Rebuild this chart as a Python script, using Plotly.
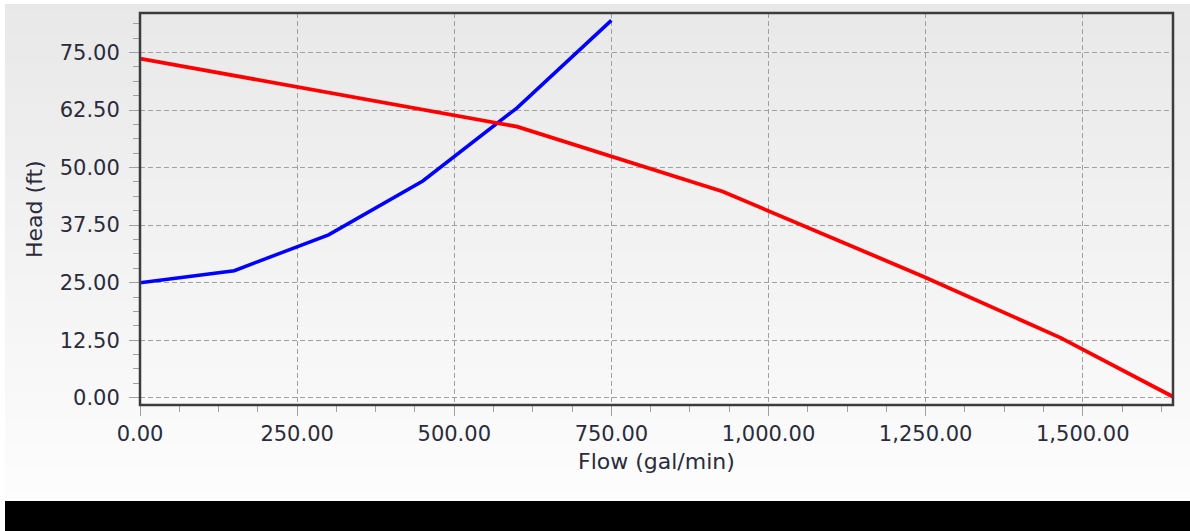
import plotly.graph_objects as go

# ---- data ----
system_flow = [0, 150, 300, 450, 600, 750]
system_head = [25.0, 27.6, 35.4, 47.1, 63.0, 82.0]

pump_flow = [0, 600, 927, 1247, 1465, 1643.6]
pump_head = [73.7, 58.9, 44.8, 26.3, 13.0, 0.2]

x_range = [0, 1643.6]
y_range = [-1.59, 83.6]

W, H = 1190, 531
L, R, T, B = 140, 17, 13, 126
pw, ph = W - L - R, H - T - B

def px2paper_x(px):
    return (px - L) / pw

def px2paper_y(py):
    return (H - B - py) / ph

fig = go.Figure()
fig.add_trace(go.Scatter(x=system_flow, y=system_head, mode="lines",
                         line=dict(color="#0000ff", width=3.5), showlegend=False,
                         cliponaxis=False))
fig.add_trace(go.Scatter(x=pump_flow, y=pump_head, mode="lines",
                         line=dict(color="#ff0000", width=3.8), showlegend=False,
                         cliponaxis=False))

shapes = []
# background gradient
top_px, bot_px = 4, 501
n = 60
c0, c1 = 0xE8, 0xFD
for i in range(n):
    y0 = top_px + (bot_px - top_px) * i / n
    y1 = top_px + (bot_px - top_px) * (i + 1) / n
    c = int(round(c0 + (c1 - c0) * (i + 0.5) / n))
    col = f"rgb({c},{c},{c})"
    shapes.append(dict(type="rect", xref="paper", yref="paper",
                       x0=px2paper_x(5), x1=px2paper_x(1190),
                       y0=px2paper_y(y1 + 0.5), y1=px2paper_y(y0),
                       fillcolor=col, line=dict(width=0), layer="below"))
# black band at bottom
shapes.append(dict(type="rect", xref="paper", yref="paper",
                   x0=px2paper_x(5), x1=px2paper_x(1195),
                   y0=px2paper_y(535), y1=px2paper_y(501),
                   fillcolor="#000000", line=dict(width=0), layer="above"))
# plot border
shapes.append(dict(type="rect", xref="paper", yref="paper", x0=0, x1=1, y0=0, y1=1,
                   line=dict(color="#3c3c3c", width=2.5), layer="above"))

font = dict(family="DejaVu Sans, Verdana, sans-serif", size=21, color="#2b2b3b")
grid = dict(showgrid=True, gridcolor="#a0a0a0", gridwidth=1, griddash="5px,3px",
            zeroline=False, showline=False, ticks="outside", ticklen=10,
            tickcolor="#a0a0a0", tickwidth=1, tickformat=",.2f", tickfont=font,
            minor=dict(ticks="outside", ticklen=6, tickcolor="#a0a0a0", showgrid=False))

fig.update_xaxes(range=x_range, dtick=250, tick0=0,
                 minor_dtick=62.5, ticklabelstandoff=0, **grid)
fig.update_yaxes(range=y_range, dtick=12.5, tick0=0,
                 minor_dtick=3.125, ticklabelstandoff=5, **grid)

fig.update_layout(
    width=W, height=H, autosize=False,
    margin=dict(l=L, r=R, t=T, b=B, pad=0),
    paper_bgcolor="#ffffff", plot_bgcolor="rgba(0,0,0,0)",
    shapes=shapes,
    annotations=[
        dict(text="Flow (gal/min)", xref="paper", yref="paper", x=0.5, y=0,
             xanchor="center", yanchor="middle", yshift=-56, showarrow=False,
             font=dict(font, size=22)),
        dict(text="Head (ft)", xref="paper", yref="paper", x=0, y=0.5,
             xanchor="center", yanchor="middle", xshift=-106, textangle=-90,
             showarrow=False, font=dict(font, size=22)),
    ],
)

fig.write_html("out.html", config={"displayModeBar": False},
               post_script="document.body.style.margin='0';document.body.style.padding='0';")
